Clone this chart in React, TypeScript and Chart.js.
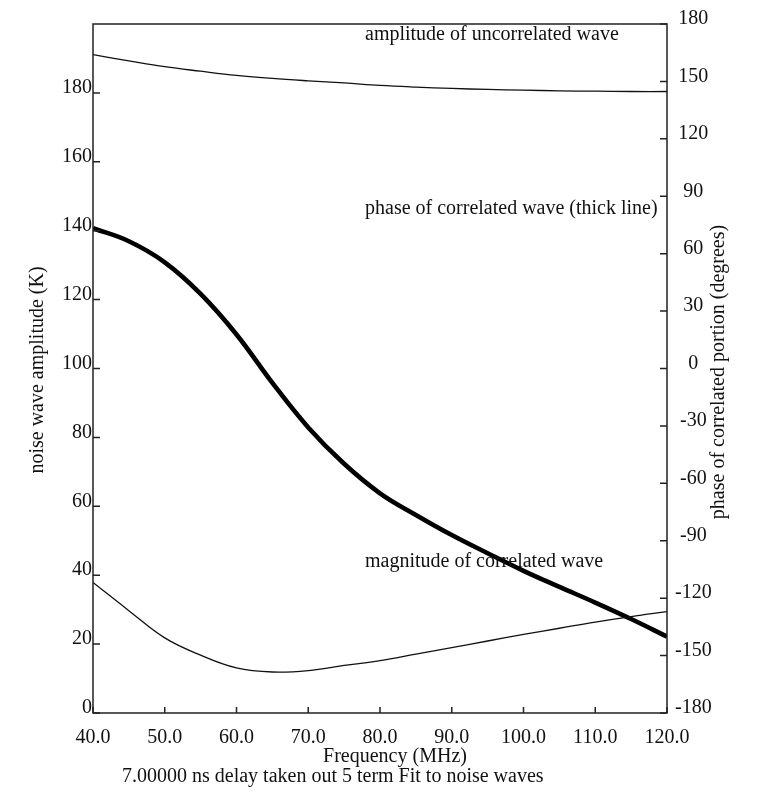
import React, { useEffect, useRef } from "react";
import { Chart, registerables } from "chart.js";

Chart.register(...registerables);

// Frequency samples (MHz)
const freqs = [40, 45, 50, 55, 60, 65, 70, 75, 80, 85, 90, 95, 100, 105, 110, 115, 120];

// Amplitude of the uncorrelated noise wave (K), left axis
const uncorrelatedAmp = [191.1, 189.3, 187.6, 186.3, 185.1, 184.2, 183.5, 182.9, 182.2, 181.7, 181.3, 181.0, 180.8, 180.6, 180.5, 180.4, 180.4];

// Magnitude of the correlated noise wave (K), left axis
const correlatedMag = [37.9, 29.7, 21.8, 16.8, 13.1, 11.9, 12.3, 13.8, 15.2, 17.1, 19.0, 20.9, 22.8, 24.6, 26.4, 28.0, 29.4];

// Phase of the correlated portion (degrees), right axis
const correlatedPhase = [73.3, 66.5, 55.5, 39.0, 17.8, -7.5, -30.8, -49.8, -65.2, -76.5, -87.0, -96.5, -105.7, -114.1, -122.3, -130.9, -140.1];

// Axis ranges
const ampRange = { min: 0, max: 200, step: 20 };
const phaseRange = { min: -180, max: 180, step: 30 };
const freqRange = { min: 40, max: 120, step: 10 };

const FONT = '"Liberation Serif", "Times New Roman", serif';
const INK = "#111";

const pts = (ys: number[]) => freqs.map((f, i) => ({ x: f, y: ys[i] }));

// Frame, inward tick marks and free-standing labels
const decorations = {
  id: "decorations",
  afterDraw(chart: any) {
    const { ctx, chartArea: a, scales } = chart;
    ctx.save();
    ctx.strokeStyle = "#222";
    ctx.lineWidth = 1.5;
    ctx.strokeRect(a.left, a.top, a.right - a.left, a.bottom - a.top);

    ctx.beginPath();
    for (const t of scales.x.ticks) {
      const px = scales.x.getPixelForValue(t.value);
      ctx.moveTo(px, a.bottom);
      ctx.lineTo(px, a.bottom - 6);
    }
    for (const t of scales.y.ticks) {
      if (t.value >= ampRange.max) continue;
      const py = scales.y.getPixelForValue(t.value);
      ctx.moveTo(a.left, py);
      ctx.lineTo(a.left + 7, py);
    }
    for (const t of scales.y1.ticks) {
      const py = scales.y1.getPixelForValue(t.value);
      ctx.moveTo(a.right, py);
      ctx.lineTo(a.right - 7, py);
    }
    ctx.stroke();

    ctx.fillStyle = INK;
    ctx.font = `20px ${FONT}`;
    ctx.textBaseline = "middle";

    ctx.textAlign = "center";
    ctx.fillText("Frequency (MHz)", 395, 757);
    ctx.textAlign = "left";
    ctx.fillText("7.00000 ns delay taken out 5 term Fit to noise waves", 122, 777);

    ctx.fillText("amplitude of uncorrelated wave", 365, 35);
    ctx.fillText("phase of correlated wave (thick line)", 365, 209);
    ctx.fillText("magnitude of correlated wave", 365, 562);

    ctx.textAlign = "center";
    ctx.save();
    ctx.translate(38, 370);
    ctx.rotate(-Math.PI / 2);
    ctx.fillText("noise wave amplitude (K)", 0, 0);
    ctx.restore();

    ctx.save();
    ctx.translate(719, 372);
    ctx.rotate(-Math.PI / 2);
    ctx.fillText("phase of correlated portion (degrees)", 0, 0);
    ctx.restore();

    ctx.restore();
  },
};

export default function App() {
  const ref = useRef<HTMLCanvasElement | null>(null);

  useEffect(() => {
    if (!ref.current) return;
    const tickFont = { family: FONT, size: 20 };
    const thin = { borderColor: INK, borderWidth: 1.3, pointRadius: 0, tension: 0.4 };
    const chart = new Chart(ref.current, {
      type: "line",
      data: {
        datasets: [
          { label: "amplitude of uncorrelated wave", data: pts(uncorrelatedAmp), yAxisID: "y", ...thin },
          { label: "magnitude of correlated wave", data: pts(correlatedMag), yAxisID: "y", ...thin },
          {
            label: "phase of correlated wave",
            data: pts(correlatedPhase),
            yAxisID: "y1",
            borderColor: "#000",
            borderWidth: 4.6,
            pointRadius: 0,
            tension: 0.4,
          },
        ],
      },
      options: {
        responsive: false,
        animation: false,
        devicePixelRatio: 1,
        layout: { padding: { top: 24, left: 0, right: 0, bottom: 0 } },
        plugins: { legend: { display: false }, tooltip: { enabled: false } },
        scales: {
          x: {
            type: "linear",
            min: freqRange.min,
            max: freqRange.max,
            grid: { display: false, drawTicks: false },
            border: { display: false },
            ticks: {
              stepSize: freqRange.step,
              font: tickFont,
              color: INK,
              padding: 13,
              maxRotation: 0,
              callback: (v: any) => Number(v).toFixed(1),
            },
            afterFit: (s: any) => {
              s.height = 80;
            },
          },
          y: {
            position: "left",
            min: ampRange.min,
            max: ampRange.max,
            grid: { display: false, drawTicks: false },
            border: { display: false },
            ticks: {
              stepSize: ampRange.step,
              font: tickFont,
              color: INK,
              padding: 1,
              labelOffset: -5,
              callback: (v: any) => (Number(v) >= ampRange.max ? "" : String(v)),
            },
            afterFit: (s: any) => {
              s.width = 93;
            },
          },
          y1: {
            position: "right",
            min: phaseRange.min,
            max: phaseRange.max,
            grid: { display: false, drawTicks: false },
            border: { display: false },
            ticks: {
              stepSize: phaseRange.step,
              font: tickFont,
              color: INK,
              padding: 8,
              crossAlign: "center",
              labelOffset: -5,
            },
            afterFit: (s: any) => {
              s.width = 90;
            },
          },
        },
      },
      plugins: [decorations],
    } as any);
    return () => chart.destroy();
  }, []);

  return (
    <div style={{ position: "absolute", left: 0, top: 0, width: 757, height: 793, background: "#fff" }}>
      <canvas ref={ref} width={757} height={793} style={{ display: "block" }} />
    </div>
  );
}
